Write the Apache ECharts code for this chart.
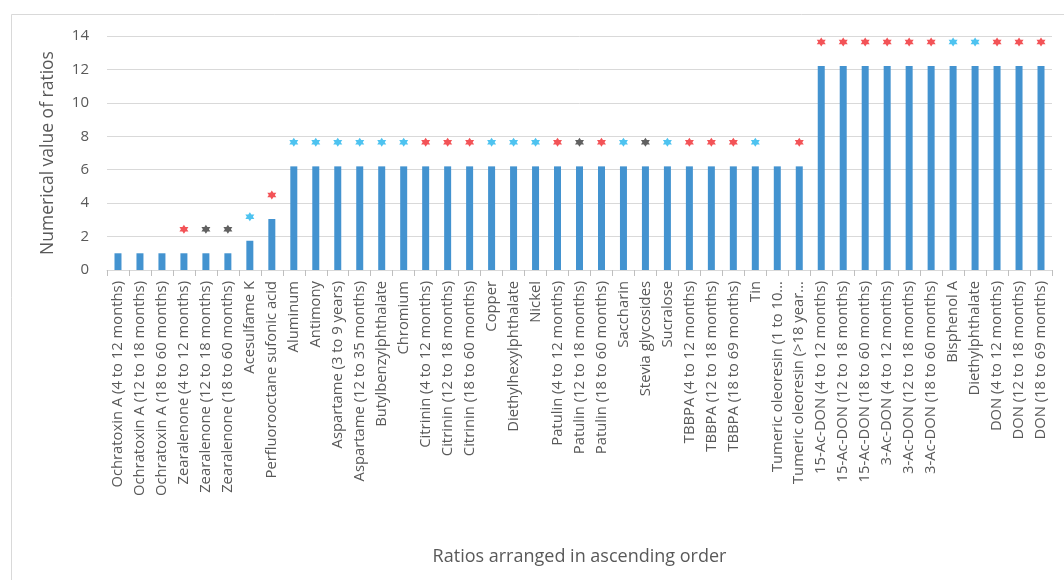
<!DOCTYPE html>
<html>
<head>
<meta charset="utf-8">
<script src="https://cdn.jsdelivr.net/npm/echarts@6/dist/echarts.min.js"></script>
<style>
html,body{margin:0;padding:0;background:#fff;}
#chart{width:1064px;height:580px;}
</style>
</head>
<body>
<div id="chart"></div>
<script>
const categories = [
  'Ochratoxin A (4 to 12 months)',
  'Ochratoxin A (12 to 18 months)',
  'Ochratoxin A (18 to 60 months)',
  'Zearalenone (4 to 12 months)',
  'Zearalenone (12 to 18 months)',
  'Zearalenone (18 to 60 months)',
  'Acesulfame K',
  'Perfluorooctane sufonic acid',
  'Aluminum',
  'Antimony',
  'Aspartame (3 to 9 years)',
  'Aspartame (12 to 35 months)',
  'Butylbenzylphthalate',
  'Chromium',
  'Citrinin (4 to 12 months)',
  'Citrinin (12 to 18 months)',
  'Citrinin (18 to 60 months)',
  'Copper',
  'Diethylhexylphthalate',
  'Nickel',
  'Patulin (4 to 12 months)',
  'Patulin (12 to 18 months)',
  'Patulin (18 to 60 months)',
  'Saccharin',
  'Stevia glycosides',
  'Sucralose',
  'TBBPA (4 to 12 months)',
  'TBBPA (12 to 18 months)',
  'TBBPA (18 to 69 months)',
  'Tin',
  'Tumeric oleoresin (1 to 10...',
  'Tumeric oleoresin (>18 year...',
  '15-Ac-DON (4 to 12 months)',
  '15-Ac-DON (12 to 18 months)',
  '15-Ac-DON (18 to 60 months)',
  '3-Ac-DON (4 to 12 months)',
  '3-Ac-DON (12 to 18 months)',
  '3-Ac-DON (18 to 60 months)',
  'Bisphenol A',
  'Diethylphthalate',
  'DON (4 to 12 months)',
  'DON (12 to 18 months)',
  'DON (18 to 69 months)'
];

const ratioValues = [
  1.0, 1.0, 1.0, 1.0, 1.0, 1.0, 1.75, 3.05,
  6.2, 6.2, 6.2, 6.2, 6.2, 6.2, 6.2, 6.2, 6.2, 6.2, 6.2, 6.2,
  6.2, 6.2, 6.2, 6.2, 6.2, 6.2, 6.2, 6.2, 6.2, 6.2, 6.2, 6.2,
  12.2, 12.2, 12.2, 12.2, 12.2, 12.2, 12.2, 12.2, 12.2, 12.2, 12.2
];

// star marker per category: r = red, k = black, c = cyan, '' = none
const starMarks = [
  '', '', '', 'r', 'k', 'k', 'c', 'r',
  'c', 'c', 'c', 'c', 'c', 'c', 'r', 'r', 'r', 'c', 'c', 'c',
  'r', 'k', 'r', 'c', 'k', 'c', 'r', 'r', 'r', 'c', '', 'r',
  'r', 'r', 'r', 'r', 'r', 'r', 'c', 'c', 'r', 'r', 'r'
];

const yTicks = [0, 2, 4, 6, 8, 10, 12, 14];

const starColors = { r: '#f0282d', k: '#3a3a3a', c: '#22b4ec' };
const starPath = 'path://M0,-10L2.9,-5L8.66,-5L5.8,0L8.66,5L2.9,5L0,10L-2.9,5L-8.66,5L-5.8,0L-8.66,-5L-2.9,-5Z';

function starSeries(key) {
  return {
    type: 'scatter',
    symbol: starPath,
    symbolSize: 9,
    symbolOffset: [0, -24],
    itemStyle: { color: starColors[key] },
    z: 5,
    silent: true,
    data: categories.map((c, i) => starMarks[i] === key ? ratioValues[i] : '-')
  };
}

const chart = echarts.init(document.getElementById('chart'), null, { renderer: 'canvas' });
const labelFont = "'Open Sans', 'Liberation Sans', sans-serif";

chart.setOption({
  backgroundColor: '#fff',
  animation: false,
  graphic: [{
    type: 'rect',
    shape: { x: 11.5, y: 14.5, width: 1100, height: 700 },
    style: { fill: 'none', stroke: '#d9d9d9', lineWidth: 1 },
    silent: true
  }],
  grid: { left: 107, right: 12, top: 36, bottom: 310 },
  xAxis: {
    type: 'category',
    data: categories,
    name: 'Ratios arranged in ascending order',
    nameLocation: 'middle',
    nameGap: 278,
    nameTextStyle: { fontSize: 18, color: '#595959', fontFamily: labelFont },
    axisLine: { lineStyle: { color: '#d9d9d9' } },
    axisTick: { show: true, length: 6, lineStyle: { color: '#bfbfbf' } },
    axisLabel: {
      interval: 0,
      rotate: 90,
      margin: 11,
      fontSize: 14.8,
      color: '#595959',
      fontFamily: labelFont
    }
  },
  yAxis: {
    type: 'value',
    min: yTicks[0],
    max: yTicks[yTicks.length - 1],
    interval: yTicks[1] - yTicks[0],
    name: 'Numerical value of ratios',
    nameLocation: 'middle',
    nameGap: 50,
    nameTextStyle: { fontSize: 17.5, color: '#595959', fontFamily: labelFont },
    axisLine: { show: false },
    axisTick: { show: false },
    axisLabel: { fontSize: 15, color: '#595959', margin: 18, fontFamily: labelFont },
    splitLine: { lineStyle: { color: '#d9d9d9', width: 1 } }
  },
  series: [
    {
      type: 'bar',
      data: ratioValues,
      barWidth: 7,
      itemStyle: { color: '#4393d0' },
      silent: true
    },
    starSeries('r'),
    starSeries('k'),
    starSeries('c')
  ]
});
</script>
</body>
</html>
